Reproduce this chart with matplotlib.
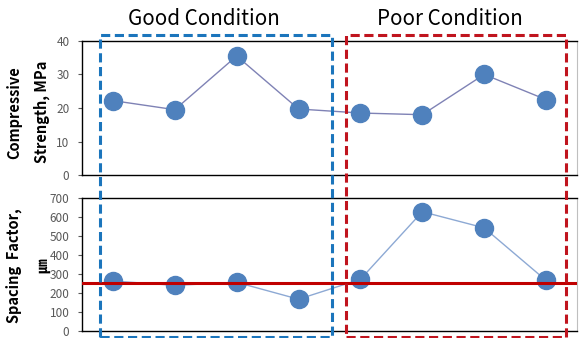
import numpy as np
import matplotlib.pyplot as plt
from matplotlib.patches import Rectangle

plt.rcParams['font.family'] = ['Noto Sans CJK KR', 'DejaVu Sans']

# eight specimens: four in good condition, four in poor condition
specimens = np.arange(8)
strength = [22.2, 19.5, 35.5, 19.7, 18.5, 18.0, 30.0, 22.5]      # MPa
spacing = [263, 240, 256, 167, 272, 628, 543, 266]              # um
spacing_limit = 250

marker_col = '#4F81BD'
tick_col = '#595959'

fig = plt.figure(figsize=(5.81, 3.38), dpi=100)
ax1 = fig.add_axes([0.1411, 0.482, 0.852, 0.397])
ax2 = fig.add_axes([0.1411, 0.021, 0.852, 0.393])

ax1.plot(specimens, strength, '-', color='#7F82B5', lw=1.0, zorder=2)
ax1.plot(specimens, strength, 'o', ms=13, color=marker_col, mec=marker_col, zorder=3)
ax1.set_ylim(0, 40)
ax1.set_yticks([0, 10, 20, 30, 40])

ax2.plot(specimens, spacing, '-', color='#8DA9D4', lw=1.0, zorder=2)
ax2.plot(specimens, spacing, 'o', ms=13, color=marker_col, mec=marker_col, zorder=3)
ax2.axhline(spacing_limit, color='#C00000', lw=2.2, zorder=4)
ax2.set_ylim(0, 700)
ax2.set_yticks(np.arange(0, 701, 100))

for ax in (ax1, ax2):
    ax.set_xlim(-0.5, 7.5)
    ax.set_xticks([])
    ax.tick_params(axis='y', labelsize=8.5, colors=tick_col, length=3, width=0.8,
                   pad=6)
    for lbl in ax.get_yticklabels():
        lbl.set_color(tick_col)
    for side in ('left', 'top', 'bottom'):
        ax.spines[side].set_color('black')
        ax.spines[side].set_linewidth(1.0)
    ax.spines['right'].set_color('#BFBFBF')
    ax.spines['right'].set_linewidth(0.8)

fig.text(0.048, 0.668, 'Compressive\nStrength, MPa', rotation=90, ha='center',
         va='center', fontsize=10.5, fontweight='bold', linespacing=1.9)
fig.text(0.048, 0.213, 'Spacing  Factor,\n㎛', rotation=90, ha='center',
         va='center', fontsize=10.5, fontweight='bold', linespacing=1.9)

fig.text(0.351, 0.945, 'Good Condition', ha='center', va='center', fontsize=14.8)
fig.text(0.775, 0.945, 'Poor Condition', ha='center', va='center', fontsize=14.8)

# dashed frames around the two groups
fig.patches.append(Rectangle((0.172, 0.004), 0.399, 0.892, transform=fig.transFigure,
                             fill=False, ec='#1B75BC', lw=2.2, ls=(0, (3, 1.5)),
                             zorder=10))
fig.patches.append(Rectangle((0.596, 0.004), 0.378, 0.892, transform=fig.transFigure,
                             fill=False, ec='#C0141E', lw=2.2, ls=(0, (3, 1.5)),
                             zorder=10))

fig.savefig('out.png', dpi=100)
